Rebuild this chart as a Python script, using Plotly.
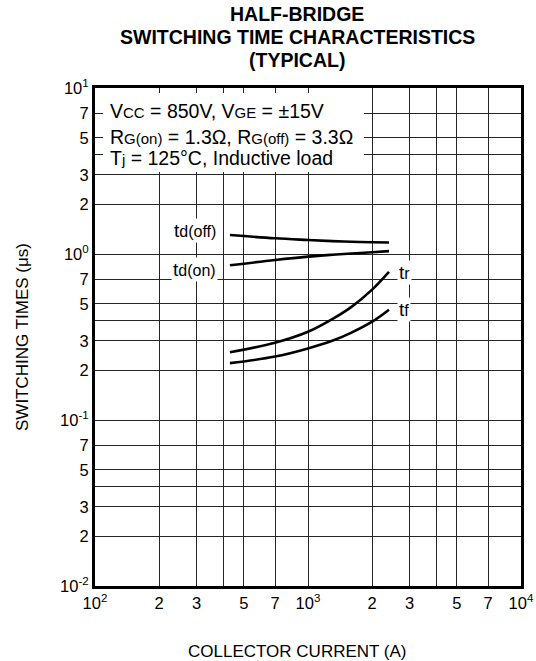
import plotly.graph_objects as go

# Data
current_A = [430, 700, 1000, 1300, 1600, 2000, 2400]
td_off_us = [1.302, 1.243, 1.214, 1.195, 1.185, 1.176, 1.174]
td_on_us = [0.855, 0.920, 0.964, 0.990, 1.008, 1.024, 1.040]
tr_us = [0.256, 0.292, 0.340, 0.405, 0.480, 0.610, 0.780]
tf_us = [0.220, 0.241, 0.270, 0.300, 0.336, 0.391, 0.462]

x_tickvals = [100, 200, 300, 400, 500, 700, 1000, 2000, 3000, 4000, 5000, 7000, 10000]
x_ticktext = ["10<sup>2</sup>", "2", "3", "", "5", "7", "10<sup>3</sup>",
              "2", "3", "", "5", "7", "10<sup>4</sup>"]
y_tickvals = [0.01, 0.02, 0.03, 0.04, 0.05, 0.07, 0.1, 0.2, 0.3, 0.4, 0.5, 0.7,
              1, 2, 3, 4, 5, 7, 10]
y_ticktext = ["10<sup>-2</sup>", "2", "3", "", "5", "7", "10<sup>-1</sup>",
              "2", "3", "", "5", "7", "10<sup>0</sup>", "2", "3", "", "5", "7",
              "10<sup>1</sup>"]

FONT = "Liberation Sans, Arial, Helvetica, sans-serif"

fig = go.Figure()
for ys in [td_off_us, td_on_us, tr_us, tf_us]:
    fig.add_trace(go.Scatter(x=current_A, y=ys, mode="lines",
                             line=dict(color="black", width=2.6, shape="spline",
                                       smoothing=1.0),
                             showlegend=False, hoverinfo="skip"))

axis_common = dict(type="log", showgrid=True, gridcolor="#262626", gridwidth=1,
                   showline=True, linecolor="black", linewidth=3, mirror=True,
                   ticks="", zeroline=False, automargin=False,
                   tickfont=dict(family=FONT, size=16.5, color="black"))

fig.update_xaxes(range=[2, 4], tickvals=x_tickvals, ticktext=x_ticktext, **axis_common)
fig.update_yaxes(range=[-2, 1], tickvals=y_tickvals, ticktext=y_ticktext, **axis_common)

# White box behind condition text
fig.add_shape(type="rect", xref="paper", yref="paper",
              x0=0.0188, x1=0.6315, y0=0.8313, y1=0.99,
              fillcolor="white", line=dict(width=0), layer="above")

def small(s, px):
    return f"<span style='font-size:{px}px'>{s}</span>"

cond_lines = [
    f"V{small('CC', 15)} = 850V, V{small('GE', 15)} = ±15V",
    f"R{small('G(on)', 15)} = 1.3Ω, R{small('G(off)', 15)} = 3.3Ω",
    f"T{small('j', 15)} = 125°C, Inductive load",
]
cond_y = [0.954, 0.902, 0.859]
for t, yy in zip(cond_lines, cond_y):
    fig.add_annotation(text=t, xref="paper", yref="paper", x=0.031, y=yy,
                       xanchor="left", yanchor="middle", showarrow=False,
                       font=dict(family=FONT, size=19.5, color="black"))

labels = [
    (f"t{small('d(off)', 16)}", 0.2347, 0.7129),
    (f"t{small('d(on)', 16)}", 0.2347, 0.6365),
    (f"t{small('r', 16)}", 0.7254, 0.6305),
    (f"t{small('f', 16)}", 0.7254, 0.5562),
]
for t, xx, yy in labels:
    fig.add_annotation(text=t, xref="paper", yref="paper", x=xx, y=yy,
                       xanchor="center", yanchor="middle", showarrow=False,
                       bgcolor="white", borderpad=1,
                       font=dict(family=FONT, size=19, color="black"))

# Title lines
title_lines = ["HALF-BRIDGE", "SWITCHING TIME CHARACTERISTICS", "(TYPICAL)"]
title_y = [1.1476, 1.1024, 1.0572]
for t, yy in zip(title_lines, title_y):
    fig.add_annotation(text=f"<b>{t}</b>", xref="paper", yref="paper",
                       x=0.4745, y=yy, xanchor="center", yanchor="middle",
                       showarrow=False,
                       font=dict(family=FONT, size=19.5, color="black"))

# Axis titles
fig.add_annotation(text="SWITCHING TIMES (μs)", xref="paper", yref="paper",
                   x=-0.1714, y=0.5, textangle=-90, showarrow=False,
                   xanchor="center", yanchor="middle",
                   font=dict(family=FONT, size=17, color="black"))
fig.add_annotation(text="COLLECTOR CURRENT (A)", xref="paper", yref="paper",
                   x=0.4765, y=-0.1325, showarrow=False,
                   xanchor="center", yanchor="middle",
                   font=dict(family=FONT, size=17, color="black"))

fig.update_layout(
    width=536, height=661,
    margin=dict(l=95, r=15, t=88, b=75, autoexpand=False),
    paper_bgcolor="white", plot_bgcolor="white",
)

fig.write_html("out.html", config={"displayModeBar": False},
               post_script="document.body.style.margin='0px';")
